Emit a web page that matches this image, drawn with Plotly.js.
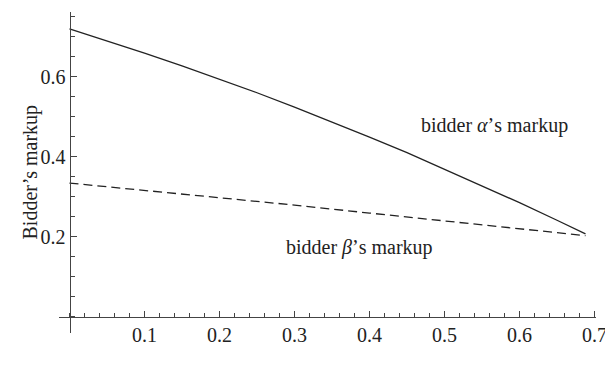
<!DOCTYPE html>
<html>
<head>
<meta charset="utf-8">
<script src="https://cdn.plot.ly/plotly-3.0.1.min.js"></script>
<style>html,body{margin:0;padding:0;background:#fff;}</style>
</head>
<body>
<div id="chart" style="width:605px;height:377px;"></div>
<script>
// Data
const deltaAlpha = [0, 0.05, 0.1, 0.15, 0.2, 0.25, 0.3, 0.35, 0.4, 0.45, 0.5, 0.55, 0.6, 0.65, 0.688];
const markupAlpha = [0.720, 0.690, 0.659, 0.627, 0.594, 0.560, 0.524, 0.487, 0.449, 0.410, 0.369, 0.328, 0.285, 0.241, 0.207];
const deltaBeta = [0, 0.1, 0.2, 0.3, 0.4, 0.5, 0.6, 0.688];
const markupBeta = [0.334, 0.316, 0.298, 0.279, 0.259, 0.239, 0.219, 0.2025];
const xTickVals = [0.1, 0.2, 0.3, 0.4, 0.5, 0.6, 0.7];
const xTickText = ["0.1", "0.2", "0.3", "0.4", "0.5", "0.6", "0.7"];
const yTickVals = [0.2, 0.4, 0.6];
const yTickText = ["0.2", "0.4", "0.6"];
const labelAlpha = "bidder <i>α</i>’s markup";
const labelBeta = "bidder <i>β</i>’s markup";
const xTitle = "<i>δ</i>";
const yTitle = "Bidder’s markup";

const xRange = [-0.014, 0.702];
const yRange = [-0.041, 0.762];
const fontFam = "Liberation Serif";
const ink = "#222";
const axisCol = "#444";
const fsz = 20;

const traces = [
  {x: deltaAlpha, y: markupAlpha, mode: "lines", line: {color: ink, width: 1.3}, hoverinfo: "skip"},
  {x: deltaBeta, y: markupBeta, mode: "lines", line: {color: ink, width: 1.3, dash: "9px,5px"}, hoverinfo: "skip"}
];

const layout = {
  width: 605, height: 377,
  margin: {l: 59, r: 9, t: 12, b: 44},
  paper_bgcolor: "#fff", plot_bgcolor: "#fff",
  showlegend: false,
  font: {family: fontFam, size: fsz, color: ink},
  xaxis: {
    range: xRange, anchor: "free",
    position: (0 - yRange[0]) / (yRange[1] - yRange[0]),
    showgrid: false, zeroline: false,
    showline: true, linecolor: axisCol, linewidth: 1,
    tickmode: "array", tickvals: xTickVals, ticktext: xTickText,
    ticks: "inside", ticklen: 6, tickcolor: axisCol, tickwidth: 1,
    ticklabeloverflow: "allow",
    tickfont: {family: fontFam, size: fsz, color: ink},
    minor: {tickmode: "linear", tick0: 0, dtick: 0.02, ticks: "inside", ticklen: 4, tickcolor: axisCol, tickwidth: 1},
    fixedrange: true
  },
  yaxis: {
    range: yRange, anchor: "free",
    position: (0 - xRange[0]) / (xRange[1] - xRange[0]),
    showgrid: false, zeroline: false,
    showline: true, linecolor: axisCol, linewidth: 1,
    tickmode: "array", tickvals: yTickVals, ticktext: yTickText,
    ticks: "inside", ticklen: 6, tickcolor: axisCol, tickwidth: 1,
    ticklabeloverflow: "allow",
    tickfont: {family: fontFam, size: fsz, color: ink},
    minor: {tickmode: "linear", tick0: 0, dtick: 0.05, ticks: "inside", ticklen: 4, tickcolor: axisCol, tickwidth: 1},
    fixedrange: true
  },
  annotations: [
    {x: 0.567, y: 0.479, xref: "x", yref: "y", text: labelAlpha, showarrow: false, font: {family: fontFam, size: fsz, color: ink}},
    {x: 0.386, y: 0.174, xref: "x", yref: "y", text: labelBeta, showarrow: false, font: {family: fontFam, size: fsz, color: ink}},
    {x: 0.35, y: -0.115, xref: "x", yref: "y", text: xTitle, showarrow: false, font: {family: fontFam, size: fsz, color: ink}},
    {x: 0, y: 0, xref: "paper", yref: "paper", text: yTitle, showarrow: false, textangle: -90, font: {family: fontFam, size: fsz, color: ink}}
  ]
};
// y-title placed in pixel terms converted to paper coords
const plotW = 605 - 59 - 9, plotH = 377 - 12 - 44;
layout.annotations[3].x = (16 - 59) / plotW;
layout.annotations[3].y = (377 - 44 - 172) / plotH;

Plotly.newPlot("chart", traces, layout, {displayModeBar: false, staticPlot: true});
</script>
</body>
</html>
